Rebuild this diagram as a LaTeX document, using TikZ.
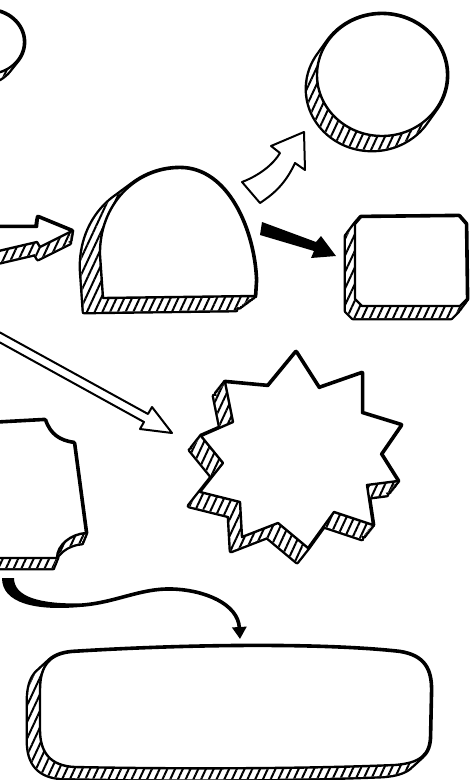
\documentclass[tikz,border=0pt]{standalone}
\usetikzlibrary{arrows.meta,patterns.meta}

\tikzset{
  face/.style={line width=2.4pt,line join=round,fill=white},
  rim/.style={line width=4.8pt,line join=round},
  hatch/.style={pattern={Lines[angle=65,distance=7pt,line width=2pt]}},
  blockarrow/.style={line width=2pt,line join=round,fill=white},
}

% front face #3 pushed back by (#1,#2), the depth hatched
\newcommand{\slab}[3]{%
  \draw[rim] foreach \t in {0,0.1,...,0.9,1} {{[shift={(\t*#1,\t*#2)}] #3}};
  \fill[white] foreach \t in {0,0.1,...,0.9,1} {{[shift={(\t*#1,\t*#2)}] #3}};
  \fill[hatch] foreach \t in {0,0.1,...,0.9,1} {{[shift={(\t*#1,\t*#2)}] #3}};
  \draw[face] #3;}

\begin{document}
\begin{tikzpicture}[x=1pt,y=-1pt]
  \useasboundingbox (0,0) rectangle (470,780);
  \fill[white] (0,0) rectangle (470,780);
  \clip (0,0) rectangle (470,780);
  % disc cut off at the top left
  \slab{-8}{10}{(-12,42) ellipse (36pt and 32pt)}
  % disc top right
  \slab{-10}{14}{(382,75) ellipse (65pt and 61pt)}
  % dome
  \slab{-19}{14}{(103,298) -- (100,255) .. controls (99,205) and (135,168) .. (180,168)
    .. controls (228,168) and (254,230) .. (256,280) -- (255,296) -- cycle}
  % box with cut corners
  \slab{-9}{12}{(361,217) -- (459,216) -- (466,224) -- (467,299) -- (460,306)
    -- (362,306) -- (355,299) -- (355,224) -- cycle}
  % block arrow into the dome
  \slab{-2}{12}{(-10,227) -- (37,227) -- (38,217) -- (72,231) -- (40,247)
    -- (37,242) -- (-10,253) -- cycle}
  % sheet with bitten corners
  \slab{-4}{10}{(-10,423) -- (45,420) .. controls (50,435) and (60,441) .. (74,443)
    -- (86,533) .. controls (71,534) and (57,545) .. (57,558) -- (-10,558) -- cycle}
  % star
  \slab{-11}{14}{(296,352) -- (319,388) -- (362,373) -- (362,413) -- (401,425)
    -- (381,454) -- (398,481) -- (367,485) -- (373,525) -- (334,512) -- (308,548)
    -- (278,523) -- (242,537) -- (240,502) -- (200,492) -- (223,463) -- (201,436)
    -- (233,422) -- (225,382) -- (268,386) -- cycle}
  % long rounded slab at the bottom
  \slab{-12}{11}{(72,652) .. controls (200,644) and (330,644) .. (400,652)
    .. controls (425,656) and (431,670) .. (431,690) -- (430,735)
    .. controls (430,755) and (420,763) .. (395,765)
    .. controls (300,769) and (170,769) .. (75,767)
    .. controls (50,766) and (40,752) .. (40,730) -- (40,690)
    .. controls (40,665) and (50,654) .. (72,652) -- cycle}

  % hollow bent arrow, dome to disc
  \draw[blockarrow] (242,182) .. controls (258,176) and (273,165) .. (280,153)
    -- (271,146) -- (304,132) -- (305,170) -- (295,163)
    .. controls (285,185) and (272,195) .. (260,203) -- cycle;
  % black arrow, dome to box
  \fill[line join=round] (262,222) -- (316,242) -- (321,236) -- (336,256)
    -- (311,258) -- (314,251) -- (260,235) -- cycle;
  % long hollow arrow to the star
  \draw[blockarrow] (-10,327) -- (148,414) -- (152,407) -- (172,433) -- (140,429)
    -- (144,422) -- (-10,337) -- cycle;
  % swung arrow, sheet to slab
  \coordinate (tail) at (80,605.2);
  \coordinate (tip) at (240,639);
  \fill (2,578) .. controls (2,603) and (35,611) .. (80,607)
    -- (80,603.4) .. controls (40,604) and (14,597) .. (14,578) -- cycle;
  \draw[line width=3.6pt,-{Triangle[width=14pt,length=12pt]}] (tail)
    .. controls (115,603) and (140,588) .. (172,589)
    .. controls (205,590) and (238,604) .. (tip);
\end{tikzpicture}
\end{document}
